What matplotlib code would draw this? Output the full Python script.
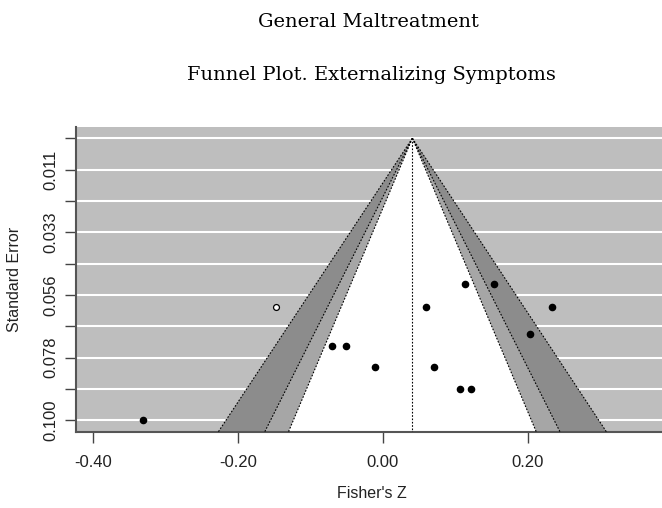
import matplotlib
matplotlib.use("Agg")
import matplotlib.pyplot as plt
import numpy as np

# Study effects (Fisher's Z) and standard errors
fisher_z = [0.113, 0.153, 0.059, 0.234, 0.203, -0.071, -0.051, -0.011, 0.070, 0.107, 0.121, -0.332]
std_err = [0.0516, 0.0516, 0.0599, 0.0599, 0.0694, 0.0737, 0.0737, 0.0809, 0.0809, 0.0888, 0.0888, 0.1000]

# filled-in (trim and fill) study
filled_z = [-0.148]
filled_se = [0.0599]

estimate = 0.0406
levels_z = [1.645, 1.960, 2.576]   # 90, 95, 99 %
band_colors = ["white", "#a6a6a6", "#8c8c8c"]
back_color = "#bebebe"

se_max = 0.1
y_ticks = np.linspace(0, se_max, 10)
x_ticks = [-0.40, -0.20, 0.00, 0.20]
x_tick_labels = ["-0.40", "-0.20", "0.00", "0.20"]

fig = plt.figure(figsize=(6.62, 5.08), dpi=100)
ax = fig.add_axes([0.1148, 0.1502, 0.894, 0.5998])
ax.set_facecolor(back_color)

ylim = (-0.04 * se_max, se_max * 1.04)
xlim = (-0.424, -0.424 + 0.894 * 662 / 724)

# gridlines at every tick
for yt in y_ticks:
    ax.axhline(yt, color="white", lw=1.5, zorder=1)

# funnel bands from outer to inner
se_line = np.array([0, ylim[1]])
for z, col in zip(levels_z[::-1], band_colors[::-1]):
    xs = [estimate - z * se_line[0], estimate - z * se_line[1],
          estimate + z * se_line[1], estimate + z * se_line[0]]
    ys = [se_line[0], se_line[1], se_line[1], se_line[0]]
    ax.fill(xs, ys, color=col, lw=0, zorder=2)
for z in levels_z:
    ax.plot(estimate - z * se_line, se_line, color="black", lw=0.8, ls=(0, (1.5, 1.5)), zorder=3)
    ax.plot(estimate + z * se_line, se_line, color="black", lw=0.8, ls=(0, (1.5, 1.5)), zorder=3)
ax.plot([estimate, estimate], se_line, color="black", lw=0.8, ls=(0, (1.5, 1.5)), zorder=3)

ax.scatter(fisher_z, std_err, s=20, color="black", zorder=4)
ax.scatter(filled_z, filled_se, s=18, facecolor="white", edgecolor="black", lw=0.9, zorder=4)

ax.set_xlim(xlim)
ax.set_ylim(ylim[1], ylim[0])

ax.set_yticks(y_ticks)
ax.set_yticklabels(["" if i % 2 == 0 else "%.3f" % v for i, v in enumerate(y_ticks)],
                   rotation=90, va="center", fontsize=12, family="Liberation Sans", color="#222222")
ax.set_xticks(x_ticks)
ax.set_xticklabels(x_tick_labels, fontsize=12, family="Liberation Sans", color="#222222")
ax.tick_params(axis="both", length=8, width=1, color="#444444")
ax.tick_params(axis="x", pad=9)
ax.tick_params(axis="y", pad=5)

for s in ["top", "right"]:
    ax.spines[s].set_visible(False)
for s in ["left", "bottom"]:
    ax.spines[s].set_color("#555555")
    ax.spines[s].set_linewidth(1.5)

fig.text(15 / 662, 1 - 279 / 508, "Standard Error", rotation=90, ha="center", va="center",
         fontsize=11.5, family="Liberation Sans", color="#222222")
fig.text(372 / 662, 1 - 494 / 508, "Fisher's Z", ha="center", va="center",
         fontsize=11.5, family="Liberation Sans", color="#222222")

fig.text(368 / 662, 1 - 22 / 508, "General Maltreatment", ha="center", va="center",
         fontsize=14, family="DejaVu Serif", color="black")
fig.text(371 / 662, 1 - 75 / 508, "Funnel Plot. Externalizing Symptoms", ha="center", va="center",
         fontsize=14, family="DejaVu Serif", color="black")

fig.savefig("out.png", dpi=100)
